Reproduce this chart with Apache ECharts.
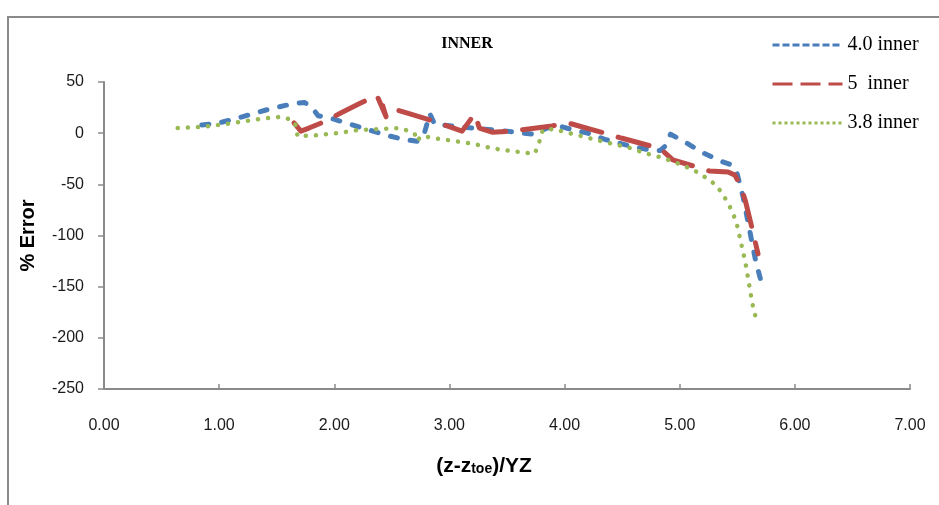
<!DOCTYPE html>
<html><head><meta charset="utf-8">
<script src="https://cdn.jsdelivr.net/npm/echarts@6/dist/echarts.min.js"></script>
<style>html,body{margin:0;padding:0;background:#fff}#c{width:939px;height:505px}</style>
</head><body><div id="c"></div>
<script>
const seriesNames = ['4.0 inner', '5  inner', '3.8 inner'];
const chartTitle = 'INNER';
const yAxisTitle = '% Error';

const inner40X = [0.85,1.0,1.2,1.45,1.65,1.74,1.80,1.86,1.96,2.10,2.25,2.45,2.60,2.72,2.78,2.83,2.87,3.10,3.30,3.50,3.72,3.85,3.92,4.05,4.20,4.35,4.55,4.72,4.83,4.88,4.92,5.05,5.20,5.35,5.45,5.50,5.55,5.59,5.63,5.66,5.70];
const inner40Y = [8,10,16,24,29,30,26,17,15,10,5,-2,-6,-8,-1,19,9,6,4,2,-1,5,8,4,0,-6,-12,-16,-17,-12,-1,-9,-19,-27,-31,-40,-62,-85,-108,-125,-142];

const inner5X = [1.65,1.71,1.78,1.93,2.06,2.22,2.37,2.45,2.42,2.65,2.80,3.11,3.22,3.26,3.37,3.54,3.89,4.03,4.35,4.50,4.83,4.94,5.26,5.42,5.48,5.53,5.57,5.62,5.68];
const inner5Y = [10,2,5,12,20,29,37,16,27,19,14,2,19,5,1,2,7,10,0,-5,-15,-26,-37,-38,-41,-52,-66,-89,-118];

const inner38X = [0.64,0.83,1.0,1.18,1.36,1.54,1.63,1.67,1.68,1.85,2.03,2.20,2.39,2.57,2.65,2.70,2.71,2.77,2.85,3.03,3.21,3.38,3.57,3.74,3.77,3.81,3.90,4.08,4.24,4.42,4.59,4.68,4.85,5.02,5.17,5.32,5.42,5.49,5.53,5.57,5.60,5.63,5.67];
const inner38Y = [5,6,8,11,14,16,13,7,-3,-2,0,3,4,5,2,-1,-7.5,-2.6,-4.6,-7.5,-10.5,-15,-18,-20,-12.5,3,4,-1,-5.6,-10.5,-15,-19,-24,-31,-39,-51,-68,-86,-106,-126,-146,-166,-185];

const xMin = 0, xMax = 7, xStep = 1;
const yMin = -250, yMax = 50, yStep = 50;

function zip(xs, ys) { return xs.map((x, i) => [x, ys[i]]); }

const colors = ['#4A7EBB', '#BE4B48', '#98B954'];
const hiddenSymbol = {opacity: 0, color: 'transparent', borderWidth: 0};
const chart = echarts.init(document.getElementById('c'), null, {renderer: 'canvas'});
chart.setOption({
  animation: false,
  backgroundColor: '#ffffff',
  grid: {left: 104, right: 29, top: 82, bottom: 116, containLabel: false},
  legend: {
    orient: 'vertical', left: 771, top: 35, padding: 0,
    itemWidth: 70, itemHeight: 18, itemGap: 19,
    textStyle: {fontFamily: 'Liberation Serif', fontSize: 20, color: '#000'},
    data: [
      {name: seriesNames[0], itemStyle: hiddenSymbol, lineStyle: {width: 3, type: [7, 3], cap: 'butt'}},
      {name: seriesNames[1], itemStyle: hiddenSymbol, lineStyle: {width: 3, type: [20, 8], cap: 'butt'}},
      {name: seriesNames[2], itemStyle: hiddenSymbol, lineStyle: {width: 3, type: [3, 3], cap: 'butt'}}
    ]
  },
  xAxis: {
    type: 'value', min: xMin, max: xMax, interval: xStep,
    axisLine: {onZero: false, lineStyle: {color: '#8a8a8a', width: 2}},
    axisTick: {show: true, inside: true, length: 5, lineStyle: {color: '#8a8a8a', width: 1.5}},
    axisLabel: {margin: 29, fontFamily: 'Liberation Sans', fontSize: 16, color: '#1a1a1a', formatter: v => v.toFixed(2)},
    splitLine: {show: false}
  },
  yAxis: {
    type: 'value', min: yMin, max: yMax, interval: yStep,
    name: yAxisTitle, nameLocation: 'middle', nameGap: 66, nameRotate: 90,
    nameTextStyle: {fontFamily: 'Liberation Sans', fontWeight: 'bold', fontSize: 20, color: '#000'},
    axisLine: {show: true, lineStyle: {color: '#8a8a8a', width: 2}},
    axisTick: {show: true, inside: false, length: 6, lineStyle: {color: '#8a8a8a', width: 1.5}},
    axisLabel: {margin: 20, fontFamily: 'Liberation Sans', fontSize: 16, color: '#1a1a1a'},
    splitLine: {show: false}
  },
  graphic: [
    {type: 'rect', shape: {x: 8, y: 17, width: 960, height: 520}, style: {fill: 'none', stroke: '#8a8a8a', lineWidth: 2}, silent: true, z: -1},
    {type: 'text', x: 467, y: 44, style: {text: chartTitle, font: 'bold 16px "Liberation Serif"', fill: '#000', textAlign: 'center', textVerticalAlign: 'middle'}},
    {type: 'text', x: 484, y: 466, style: {
      text: '(z-z{s|toe})/YZ',
      rich: {s: {fontSize: 14, fontFamily: 'Liberation Sans', fontWeight: 'bold', fill: '#000', verticalAlign: 'bottom'}},
      font: 'bold 21px "Liberation Sans"', fill: '#000', textAlign: 'center', textVerticalAlign: 'middle'}}
  ],
  series: [
    {name: seriesNames[0], type: 'line', data: zip(inner40X, inner40Y), symbol: 'none', smooth: false,
      lineStyle: {color: colors[0], width: 5, type: [7, 13], cap: 'round', join: 'round'}, itemStyle: {color: colors[0]}},
    {name: seriesNames[1], type: 'line', data: zip(inner5X, inner5Y), symbol: 'none', smooth: false,
      lineStyle: {color: colors[1], width: 5, type: [32, 17], cap: 'round', join: 'round'}, itemStyle: {color: colors[1]}},
    {name: seriesNames[2], type: 'line', data: zip(inner38X, inner38Y), symbol: 'none', smooth: false,
      lineStyle: {color: colors[2], width: 4.5, type: [0.1, 10], cap: 'round', join: 'round'}, itemStyle: {color: colors[2]}}
  ]
});
</script></body></html>
